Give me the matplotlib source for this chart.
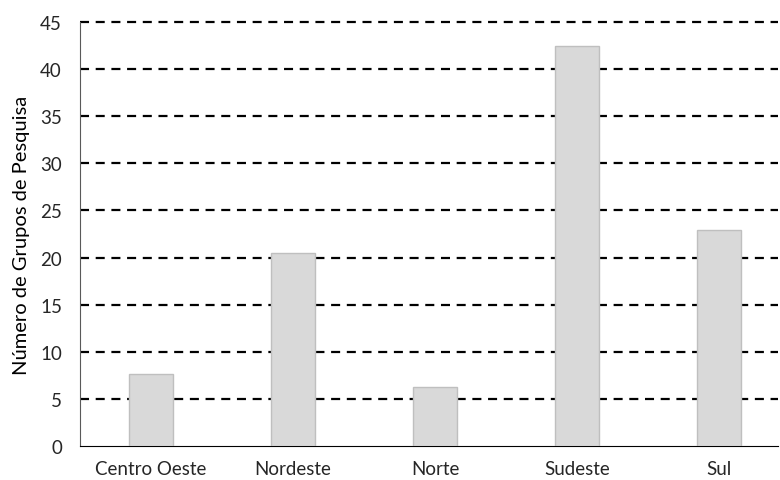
import numpy as np
import matplotlib
matplotlib.use("Agg")
import matplotlib.pyplot as plt

# research groups by region
regioes = ["Centro Oeste", "Nordeste", "Norte", "Sudeste", "Sul"]
grupos = [7.6, 20.5, 6.3, 42.5, 22.9]

plt.rcParams['font.family'] = ['Lato', 'DejaVu Sans']
plt.rcParams['lines.scale_dashes'] = False

fig = plt.figure(figsize=(7.8, 4.81), dpi=100)
ax = fig.add_axes([0.1026, 0.0707, 0.895, 0.8815])

x = np.arange(len(regioes))
ax.bar(x, grupos, width=0.31, color='#d9d9d9', edgecolor='#bfbfbf',
       linewidth=1, zorder=3)

# dashed horizontal gridlines
for v in range(5, 50, 5):
    ax.axhline(v, color='black', linewidth=1.6, linestyle=(0, (6.5, 4.8)),
               zorder=1, clip_on=False)

ax.set_ylim(0, 45)
ax.set_xlim(-0.5, 4.415)
ax.set_yticks(range(0, 50, 5))
ax.set_xticks(x)
ax.set_xticklabels(regioes)
ax.tick_params(axis='y', length=0, pad=13, labelsize=13.5)
ax.tick_params(axis='x', length=0, pad=10, labelsize=13.5)
for lbl in ax.get_yticklabels() + ax.get_xticklabels():
    lbl.set_color('#262626')

ax.spines['top'].set_visible(False)
ax.spines['right'].set_visible(False)
ax.spines['left'].set_color('#595959')
ax.spines['bottom'].set_color('black')

ax.set_ylabel('Número de Grupos de Pesquisa', fontsize=14.5, labelpad=7,
              color='black')

fig.savefig('out.png', dpi=100)
